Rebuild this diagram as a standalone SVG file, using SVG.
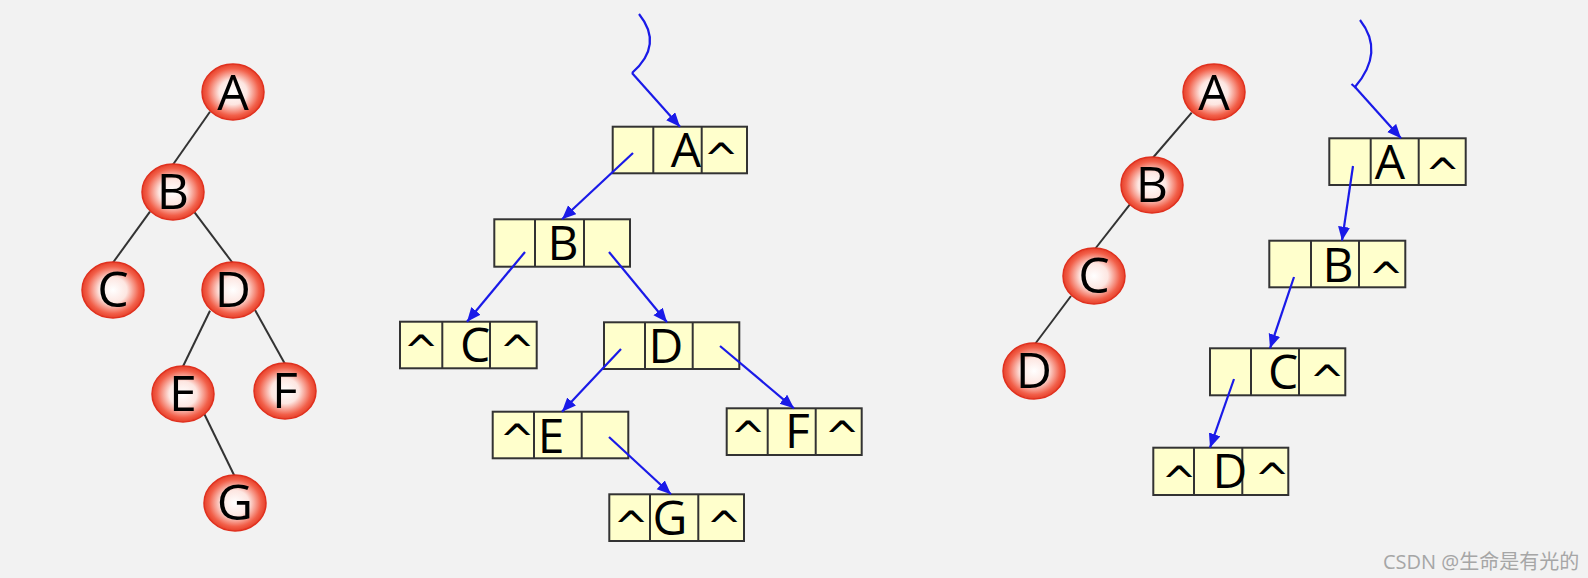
<svg xmlns="http://www.w3.org/2000/svg" width="1588" height="578" viewBox="0 0 1588 578">
<style>
.bg{fill:#f2f2f2}
.nd{fill:url(#rg);stroke:#e0301e;stroke-width:1.5}
.edge{stroke:#333;stroke-width:2;fill:none}
.cl{font-family:"Open Sans","DejaVu Sans",sans-serif;font-size:50px;fill:#000;text-anchor:middle}
.box{fill:#ffffcc;stroke:#333;stroke-width:2}
.dv{stroke:#333;stroke-width:2}
.bl{font-family:"Open Sans","DejaVu Sans",sans-serif;font-size:48px;fill:#000;text-anchor:middle}
.ct{font-family:"DejaVu Sans",sans-serif;font-size:42px;fill:#000;text-anchor:middle}
.ar{stroke:#1a1ae8;stroke-width:2.2;fill:none;marker-end:url(#ah)}
.sq{stroke:#1a1ae8;stroke-width:2.2;fill:none}
.wm{font-family:"Open Sans","Noto Sans CJK SC",sans-serif;font-size:20px;fill:#a6a6a6}
</style>
<defs>
<radialGradient id="rg" cx="50%" cy="50%" r="50%">
<stop offset="0" stop-color="#ffffff"/>
<stop offset="0.45" stop-color="#fde6e1"/>
<stop offset="0.84" stop-color="#f2604a"/>
<stop offset="1" stop-color="#e6402a"/>
</radialGradient>
<marker id="ah" markerUnits="userSpaceOnUse" markerWidth="15" markerHeight="13" refX="14" refY="6" orient="auto">
<path d="M0,0 L14,6 L0,12 Z" fill="#1a1ae8"/>
</marker>
</defs>
<rect class="bg" x="0" y="0" width="1588" height="578"/>

<g id="tree-edges">
<line class="edge" x1="210" y1="111.7" x2="172.7" y2="165"/>
<line class="edge" x1="150" y1="211.7" x2="112.7" y2="263"/>
<line class="edge" x1="194" y1="211.7" x2="232.7" y2="263"/>
<line class="edge" x1="210" y1="310.7" x2="182.7" y2="367"/>
<line class="edge" x1="255" y1="310" x2="285" y2="364"/>
<line class="edge" x1="204.3" y1="414" x2="235" y2="477"/>
<line class="edge" x1="1191.7" y1="112.7" x2="1152.7" y2="158"/>
<line class="edge" x1="1130.7" y1="203.3" x2="1095" y2="249"/>
<line class="edge" x1="1071" y1="296" x2="1034.3" y2="345"/>
</g>

<g id="t1-A"><ellipse class="nd" cx="233" cy="92" rx="31" ry="28"/><text class="cl" x="233" y="110">A</text></g>
<g id="t1-B"><ellipse class="nd" cx="173" cy="192" rx="31" ry="28"/><text class="cl" x="173" y="209">B</text></g>
<g id="t1-C"><ellipse class="nd" cx="113" cy="290" rx="31" ry="28"/><text class="cl" x="113" y="307">C</text></g>
<g id="t1-D"><ellipse class="nd" cx="233" cy="290" rx="31" ry="28"/><text class="cl" x="233" y="307">D</text></g>
<g id="t1-E"><ellipse class="nd" cx="183" cy="394" rx="31" ry="28"/><text class="cl" x="183" y="411">E</text></g>
<g id="t1-F"><ellipse class="nd" cx="285" cy="391" rx="31" ry="28"/><text class="cl" x="285" y="408">F</text></g>
<g id="t1-G"><ellipse class="nd" cx="235" cy="503" rx="31" ry="28"/><text class="cl" x="235" y="520">G</text></g>

<g id="t2-A"><ellipse class="nd" cx="1214" cy="92" rx="31" ry="28"/><text class="cl" x="1214" y="110">A</text></g>
<g id="t2-B"><ellipse class="nd" cx="1152" cy="185" rx="31" ry="28"/><text class="cl" x="1152" y="202">B</text></g>
<g id="t2-C"><ellipse class="nd" cx="1094" cy="276" rx="31" ry="28"/><text class="cl" x="1094" y="293">C</text></g>
<g id="t2-D"><ellipse class="nd" cx="1034" cy="371" rx="31" ry="28"/><text class="cl" x="1034" y="388">D</text></g>

<g id="l1-A"><rect class="box" x="612.7" y="126.7" width="134.3" height="46.6"/><line class="dv" x1="653.3" y1="126.7" x2="653.3" y2="173.3"/><line class="dv" x1="701.7" y1="126.7" x2="701.7" y2="173.3"/><text class="bl" x="686" y="167">A</text><text class="ct" x="721" y="174">^</text></g>
<g id="l1-B"><rect class="box" x="494.3" y="219.3" width="135.7" height="47.4"/><line class="dv" x1="535" y1="219.3" x2="535" y2="266.7"/><line class="dv" x1="584" y1="219.3" x2="584" y2="266.7"/><text class="bl" x="563" y="260">B</text></g>
<g id="l1-C"><rect class="box" x="400" y="321.7" width="136.7" height="46.6"/><line class="dv" x1="442.3" y1="321.7" x2="442.3" y2="368.3"/><line class="dv" x1="490" y1="321.7" x2="490" y2="368.3"/><text class="ct" x="421" y="366">^</text><text class="bl" x="475" y="362">C</text><text class="ct" x="517" y="366">^</text></g>
<g id="l1-D"><rect class="box" x="604" y="322.3" width="135.3" height="46.7"/><line class="dv" x1="645" y1="322.3" x2="645" y2="369"/><line class="dv" x1="692.7" y1="322.3" x2="692.7" y2="369"/><text class="bl" x="666" y="363">D</text></g>
<g id="l1-E"><rect class="box" x="492.7" y="411.7" width="135.6" height="46.6"/><line class="dv" x1="534" y1="411.7" x2="534" y2="458.3"/><line class="dv" x1="581.7" y1="411.7" x2="581.7" y2="458.3"/><text class="ct" x="517" y="455">^</text><text class="bl" x="551" y="452.7">E</text></g>
<g id="l1-F"><rect class="box" x="726.7" y="408.3" width="135" height="46.7"/><line class="dv" x1="767.7" y1="408.3" x2="767.7" y2="455"/><line class="dv" x1="815.7" y1="408.3" x2="815.7" y2="455"/><text class="ct" x="748" y="452">^</text><text class="bl" x="797.5" y="448.3">F</text><text class="ct" x="842" y="452">^</text></g>
<g id="l1-G"><rect class="box" x="609.3" y="494.3" width="134.7" height="46.7"/><line class="dv" x1="650" y1="494.3" x2="650" y2="541"/><line class="dv" x1="698.3" y1="494.3" x2="698.3" y2="541"/><text class="ct" x="631" y="542">^</text><text class="bl" x="670" y="535">G</text><text class="ct" x="724" y="542">^</text></g>

<g id="l2-A"><rect class="box" x="1329.3" y="138.3" width="136.4" height="46.7"/><line class="dv" x1="1370.7" y1="138.3" x2="1370.7" y2="185"/><line class="dv" x1="1418.7" y1="138.3" x2="1418.7" y2="185"/><text class="bl" x="1390" y="179.3">A</text><text class="ct" x="1442.5" y="189">^</text></g>
<g id="l2-B"><rect class="box" x="1269.3" y="240.7" width="136" height="46.6"/><line class="dv" x1="1311" y1="240.7" x2="1311" y2="287.3"/><line class="dv" x1="1359" y1="240.7" x2="1359" y2="287.3"/><text class="bl" x="1338" y="281.7">B</text><text class="ct" x="1386" y="293">^</text></g>
<g id="l2-C"><rect class="box" x="1210" y="348.3" width="135.3" height="47"/><line class="dv" x1="1251" y1="348.3" x2="1251" y2="395.3"/><line class="dv" x1="1299" y1="348.3" x2="1299" y2="395.3"/><text class="bl" x="1283" y="389">C</text><text class="ct" x="1327" y="396">^</text></g>
<g id="l2-D"><rect class="box" x="1153.3" y="447.7" width="135" height="47.3"/><line class="dv" x1="1194" y1="447.7" x2="1194" y2="495"/><line class="dv" x1="1242.3" y1="447.7" x2="1242.3" y2="495"/><text class="ct" x="1179" y="497">^</text><text class="bl" x="1230" y="488.3">D</text><text class="ct" x="1272" y="494">^</text></g>

<g id="connectors">
<path class="sq" d="M639,14 Q664,45 632,73"/>
<path class="ar" d="M632,73 L680,126.7"/>
<path class="ar" d="M633,153 L562,219.3"/>
<path class="ar" d="M525,252 L467,321.7"/>
<path class="ar" d="M609,252 L667,322.3"/>
<path class="ar" d="M621,349 L562,411.7"/>
<path class="ar" d="M720,346 L794,408.3"/>
<path class="ar" d="M609,437 L671,494.3"/>
<path class="sq" d="M1360,20 Q1385,52 1355,87"/>
<path class="sq" d="M1351.5,84 L1356,88"/>
<path class="ar" d="M1355,87 L1401,138.3"/>
<path class="ar" d="M1353,166 L1342,240.7"/>
<path class="ar" d="M1294,277 L1270,348.3"/>
<path class="ar" d="M1234,379 L1210,447.7"/>
</g>

<text class="wm" x="1383" y="569">CSDN @生命是有光的</text>
</svg>
